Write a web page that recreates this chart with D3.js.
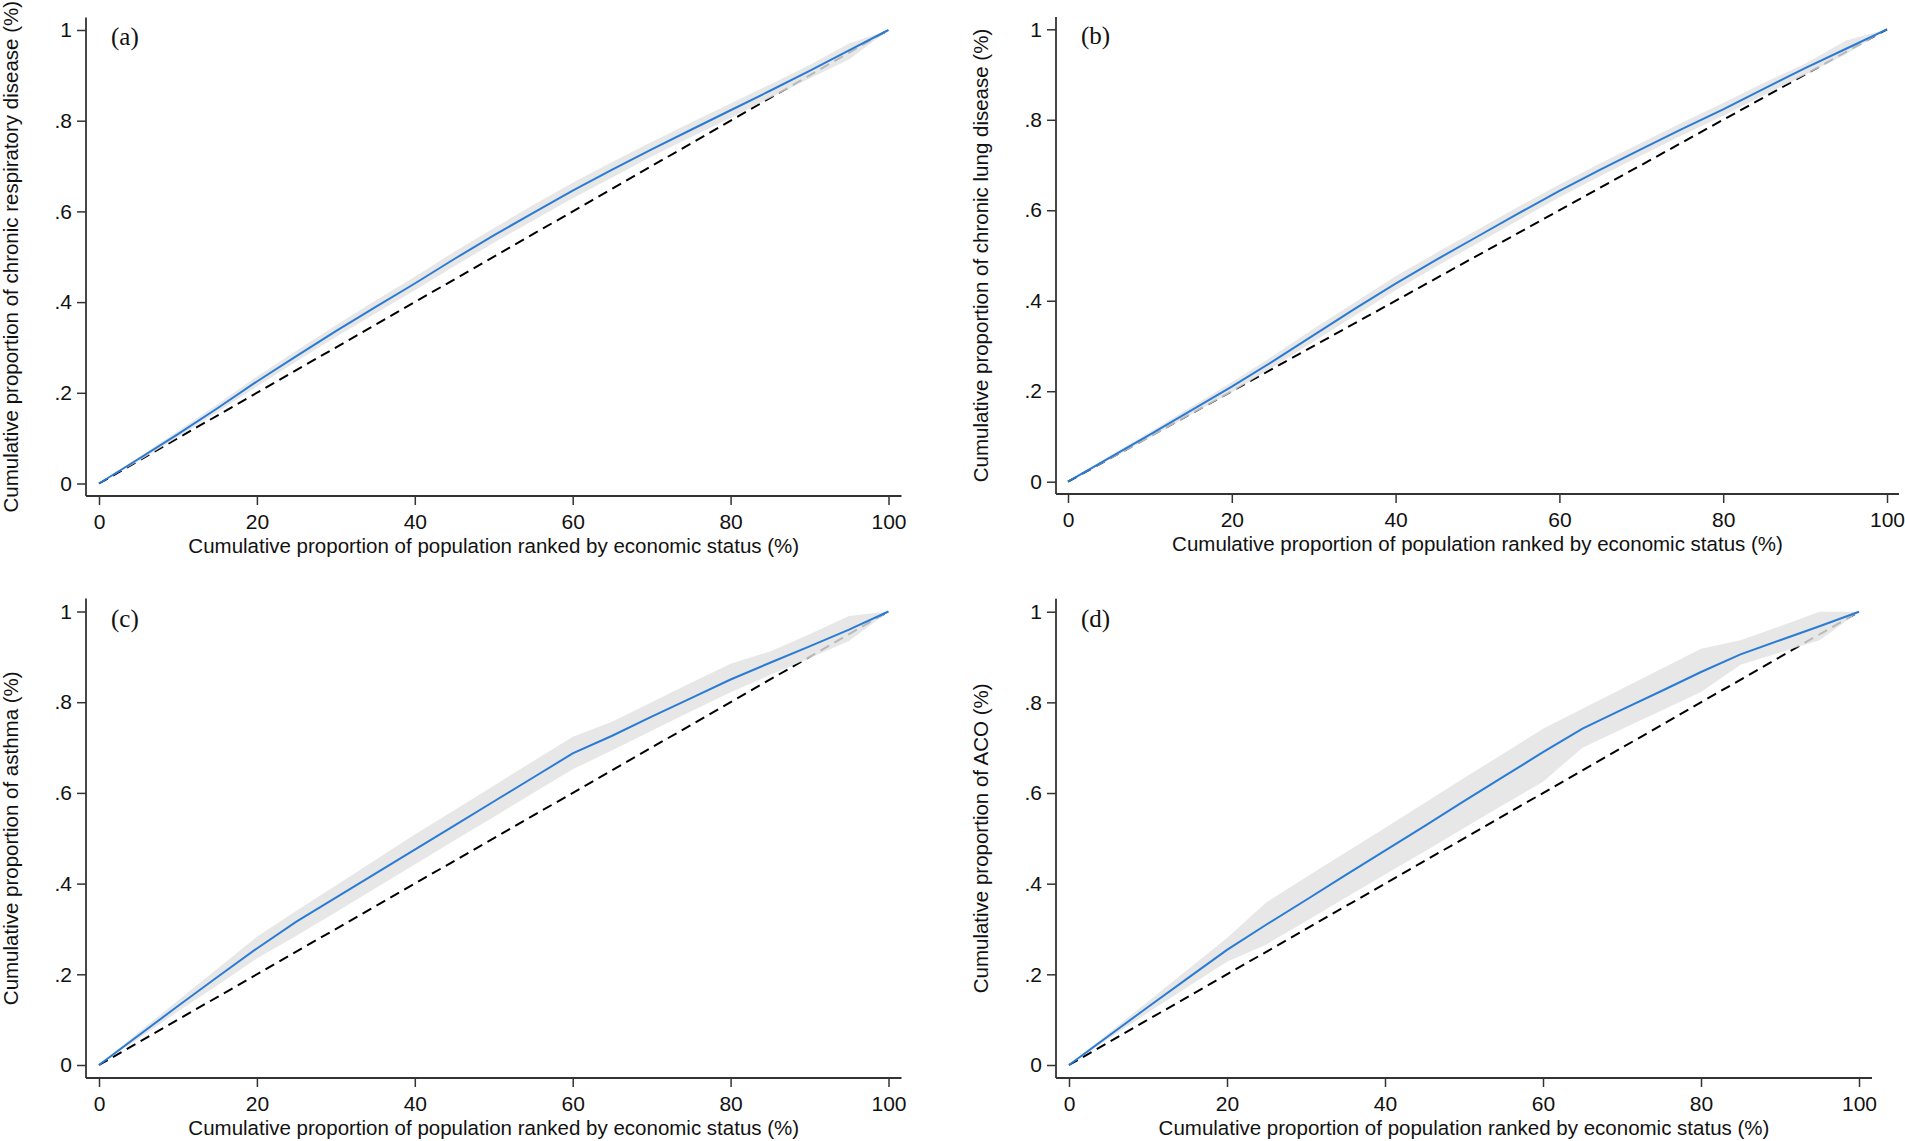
<!DOCTYPE html>
<html>
<head>
<meta charset="utf-8">
<script src="https://cdn.jsdelivr.net/npm/d3@7/dist/d3.min.js"></script>
<style>
  html, body { margin: 0; padding: 0; background: #fff; }
  svg { display: block; }
  .tick text { font-family: "Liberation Sans", Arial, sans-serif; font-size: 21px; fill: #111; }
  .tick line { stroke: #333; stroke-width: 1.5; }
  .axis-title { font-family: "Liberation Sans", Arial, sans-serif; font-size: 20.5px; fill: #111; }
  .panel-tag { font-family: "Liberation Serif", "Times New Roman", serif; font-size: 25px; fill: #111; }
</style>
</head>
<body>
<div id="chart"></div>
<script>
// Concentration curves, cumulative share of population (%) on the x axis
const popShare = [0, 5, 10, 15, 20, 25, 30, 35, 40, 45, 50, 55, 60, 65, 70, 75, 80, 85, 90, 95, 100];

// (a) chronic respiratory disease
const respCurve = [0, 0.054, 0.109, 0.166, 0.225, 0.281, 0.336, 0.389, 0.441, 0.495, 0.547, 0.597, 0.646, 0.692, 0.737, 0.780, 0.823, 0.866, 0.910, 0.955, 1];
const respUpper = [0, 0.058, 0.116, 0.175, 0.236, 0.293, 0.349, 0.403, 0.456, 0.511, 0.563, 0.614, 0.663, 0.709, 0.753, 0.796, 0.838, 0.880, 0.923, 0.970, 1];
const respLower = [0, 0.049, 0.102, 0.157, 0.214, 0.269, 0.323, 0.375, 0.426, 0.479, 0.531, 0.580, 0.629, 0.675, 0.721, 0.764, 0.806, 0.850, 0.893, 0.935, 1];

// (b) chronic lung disease
const lungCurve = [0, 0.052, 0.104, 0.157, 0.210, 0.266, 0.324, 0.382, 0.438, 0.491, 0.542, 0.593, 0.643, 0.690, 0.735, 0.780, 0.823, 0.869, 0.914, 0.957, 1];
const lungUpper = [0, 0.056, 0.110, 0.165, 0.220, 0.278, 0.338, 0.396, 0.454, 0.506, 0.557, 0.608, 0.657, 0.704, 0.749, 0.794, 0.837, 0.882, 0.924, 0.975, 1];
const lungLower = [0, 0.048, 0.097, 0.148, 0.198, 0.253, 0.310, 0.367, 0.423, 0.476, 0.527, 0.578, 0.629, 0.676, 0.721, 0.766, 0.809, 0.855, 0.899, 0.945, 1];

// (c) asthma
const asthmaCurve = [0, 0.065, 0.130, 0.194, 0.257, 0.316, 0.369, 0.422, 0.475, 0.528, 0.581, 0.634, 0.687, 0.726, 0.768, 0.809, 0.850, 0.887, 0.923, 0.960, 1];
const asthmaUpper = [0, 0.072, 0.142, 0.212, 0.283, 0.340, 0.396, 0.452, 0.508, 0.562, 0.616, 0.670, 0.724, 0.757, 0.800, 0.843, 0.885, 0.912, 0.950, 0.990, 1];
const asthmaLower = [0, 0.058, 0.118, 0.176, 0.235, 0.285, 0.337, 0.390, 0.442, 0.495, 0.547, 0.600, 0.652, 0.694, 0.737, 0.780, 0.822, 0.860, 0.897, 0.935, 1];

// (d) ACO
const acoCurve = [0, 0.064, 0.128, 0.191, 0.254, 0.310, 0.364, 0.419, 0.473, 0.527, 0.582, 0.636, 0.690, 0.742, 0.784, 0.825, 0.867, 0.906, 0.937, 0.968, 1];
const acoUpper = [0, 0.070, 0.140, 0.210, 0.280, 0.359, 0.414, 0.469, 0.523, 0.578, 0.633, 0.687, 0.742, 0.786, 0.830, 0.874, 0.918, 0.937, 0.968, 1.000, 1];
const acoLower = [0, 0.058, 0.115, 0.172, 0.228, 0.266, 0.317, 0.369, 0.420, 0.471, 0.523, 0.574, 0.625, 0.700, 0.741, 0.782, 0.823, 0.883, 0.910, 0.937, 1];

const equalityLine = [0, 100];
const xTicks = [0, 20, 40, 60, 80, 100];
const yTicks = [0, 0.2, 0.4, 0.6, 0.8, 1];
const panelTags = ['(a)', '(b)', '(c)', '(d)'];
const yTitles = [
  'Cumulative proportion of chronic respiratory disease (%)',
  'Cumulative proportion of chronic lung disease (%)',
  'Cumulative proportion of asthma (%)',
  'Cumulative proportion of ACO (%)'
];
const xTitle = 'Cumulative proportion of population ranked by economic status (%)';

const panelSeries = [
  [respCurve, respUpper, respLower],
  [lungCurve, lungUpper, lungLower],
  [asthmaCurve, asthmaUpper, asthmaLower],
  [acoCurve, acoUpper, acoLower]
];

// pixel layout of each panel: axis corner and the data range ends
const layout = [
  { left: 86,   bottom: 496,  x0: 99,   x1: 888.5, y0: 483.5, y1: 30 },
  { left: 1056, bottom: 494,  x0: 1068, x1: 1887,  y0: 481.7, y1: 29.3 },
  { left: 86,   bottom: 1078, x0: 99,   x1: 888.5, y0: 1065,  y1: 611.5 },
  { left: 1056, bottom: 1078, x0: 1069, x1: 1859,  y0: 1065,  y1: 611.7 }
];

const width = 1905, height = 1141;
const svg = d3.select('#chart').append('svg')
  .attr('width', width)
  .attr('height', height);

const fmtY = d => d === 0 ? '0' : d === 1 ? '1' : d3.format('.1f')(d).replace(/^0/, '');

layout.forEach((p, i) => {
  const [curve, upper, lower] = panelSeries[i];
  const right = p.x1 + (p.x0 - p.left);
  const top = p.y1 - (p.bottom - p.y0);

  const x = d3.scaleLinear().domain([0, 100]).range([p.x0, p.x1]);
  const y = d3.scaleLinear().domain([0, 1]).range([p.y0, p.y1]);

  const g = svg.append('g');

  // line of equality
  g.append('path')
    .datum(equalityLine)
    .attr('d', d3.line().x(d => x(d)).y(d => y(d / 100)))
    .attr('fill', 'none')
    .attr('stroke', '#000')
    .attr('stroke-width', 2)
    .attr('stroke-dasharray', '10,6');

  // confidence band
  const band = popShare.map((s, k) => ({ s, hi: upper[k], lo: lower[k] }));
  g.append('path')
    .datum(band)
    .attr('d', d3.area().x(d => x(d.s)).y0(d => y(d.lo)).y1(d => y(d.hi)))
    .attr('fill', 'rgb(226,226,226)')
    .attr('fill-opacity', 0.82);

  // concentration curve
  g.append('path')
    .datum(popShare.map((s, k) => [s, curve[k]]))
    .attr('d', d3.line().x(d => x(d[0])).y(d => y(d[1])))
    .attr('fill', 'none')
    .attr('stroke', '#2a7bd5')
    .attr('stroke-width', 2);

  // axes
  const ax = g.append('g')
    .attr('transform', `translate(0,${p.bottom})`)
    .call(d3.axisBottom(x).tickValues(xTicks).tickSize(9).tickPadding(9));
  ax.select('.domain').remove();

  const ay = g.append('g')
    .attr('transform', `translate(${p.left},0)`)
    .call(d3.axisLeft(y).tickValues(yTicks).tickFormat(fmtY).tickSize(9).tickPadding(5));
  ay.select('.domain').remove();

  g.append('line')
    .attr('x1', p.left).attr('x2', right)
    .attr('y1', p.bottom).attr('y2', p.bottom)
    .attr('stroke', '#333').attr('stroke-width', 1.8);
  g.append('line')
    .attr('x1', p.left).attr('x2', p.left)
    .attr('y1', top).attr('y2', p.bottom)
    .attr('stroke', '#333').attr('stroke-width', 1.8);

  // titles
  g.append('text')
    .attr('class', 'axis-title')
    .attr('x', (p.left + right) / 2)
    .attr('y', p.bottom + 57)
    .attr('text-anchor', 'middle')
    .text(xTitle);

  g.append('text')
    .attr('class', 'axis-title')
    .attr('transform', `translate(${p.left - 68},${(top + p.bottom) / 2}) rotate(-90)`)
    .attr('text-anchor', 'middle')
    .text(yTitles[i]);

  g.append('text')
    .attr('class', 'panel-tag')
    .attr('x', p.left + 25)
    .attr('y', p.y1 + 15)
    .text(panelTags[i]);
});
</script>
</body>
</html>
